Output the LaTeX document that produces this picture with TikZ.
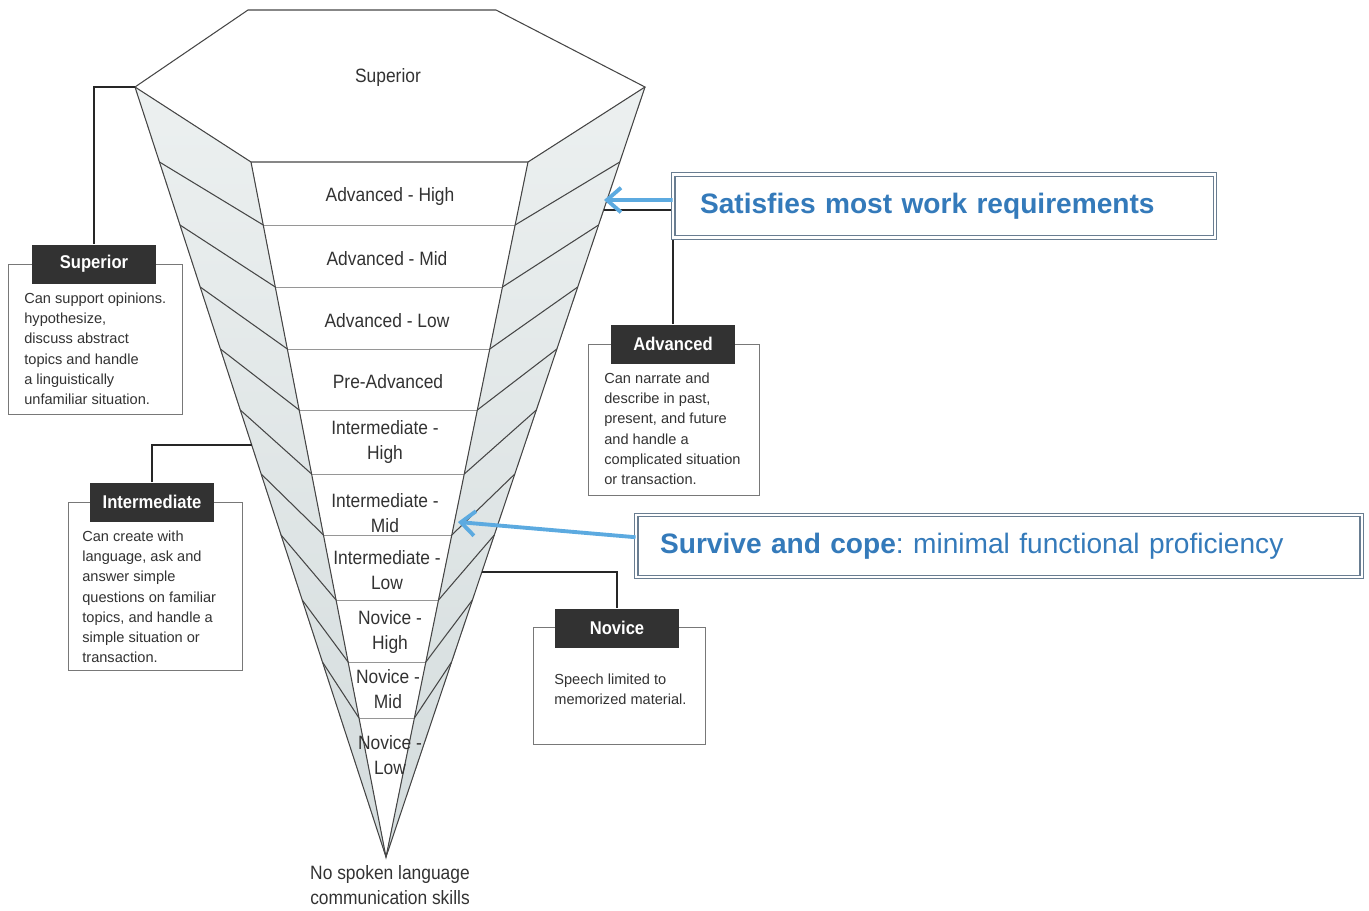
\documentclass[tikz,border=0pt]{standalone}
\usepackage{fontspec}
\setmainfont{Liberation Sans}
\newfontfamily\condfont[FakeStretch=0.9]{Liberation Sans}
\usetikzlibrary{calc,positioning,arrows.meta}
\frenchspacing
\definecolor{rimgray}{RGB}{70,70,70}
\definecolor{tiergray}{RGB}{150,150,150}
\definecolor{facetop}{RGB}{236,240,240}
\definecolor{facebot}{RGB}{212,220,221}
\definecolor{labelgray}{RGB}{50,50,50}
\definecolor{headgray}{RGB}{50,50,50}
\definecolor{boxgray}{RGB}{120,120,120}
\definecolor{noteblue}{RGB}{52,122,186}
\definecolor{noterim}{RGB}{105,125,145}
\definecolor{arrowblue}{RGB}{92,170,224}
\tikzset{
	rim/.style={draw=rimgray, line width=0.6pt},
	tier/.style={draw=tiergray, line width=0.5pt},
	face/.style={top color=facetop, bottom color=facebot},
	level/.style={font=\condfont\fontsize{11}{14.2}\selectfont, text=labelgray, align=center, inner sep=0pt},
	bandhead/.style={fill=headgray, text=white, font=\condfont\bfseries\fontsize{10.5}{12}\selectfont, minimum width=2.48cm, minimum height=0.78cm, inner sep=0pt},
	bandbox/.style={draw=boxgray, line width=0.5pt, fill=white},
	bandtext/.style={font=\fontsize{8.3}{11.4}\selectfont, text=labelgray, align=left, anchor=north west, inner sep=0pt},
	leader/.style={draw=black!85, line width=0.8pt},
	note/.style={draw=noterim, double, double distance=1.6pt, line width=0.6pt, fill=white, text=noteblue, font=\fontsize{16}{18}\selectfont, align=left},
	notearrow/.style={-{Straight Barb[length=8pt,width=14pt]}, draw=arrowblue, line width=2.2pt}
}
\begin{document}
\begin{tikzpicture}[x=0.02cm,y=-0.02cm]
	\useasboundingbox (0,0) rectangle (1369,910);
	%%% cone corners
	\coordinate (TL) at (248,10);
	\coordinate (TR) at (496,10);
	\coordinate (OL) at (135,87);
	\coordinate (OR) at (645,87);
	\coordinate (FL) at (251,162);
	\coordinate (FR) at (528,162);
	\coordinate (apex) at (386,857);
	
	\fill[face] (OL) -- (FL) -- (apex) -- cycle;
	\fill[face] (OR) -- (FR) -- (apex) -- cycle;
	
	%%% tiers on the front
	\foreach \y in {225,287,349,410,474,535,600,662,718}
		\draw[tier] ($(FL)!{(\y-162)/695}!(apex)$) -- ($(FR)!{(\y-162)/695}!(apex)$);
	%%% slanted tiers on the sides
	\foreach \ya/\yb in {162/225,225/287,287/349,349/410,410/474,474/535,535/600,600/662,662/718}{
		\draw[rim] ($(OL)!{(\ya-87)/770}!(apex)$) -- ($(FL)!{(\yb-162)/695}!(apex)$);
		\draw[rim] ($(OR)!{(\ya-87)/770}!(apex)$) -- ($(FR)!{(\yb-162)/695}!(apex)$);
	}
	\draw[rim] (TL) -- (TR) -- (OR) -- (FR) -- (FL) -- (OL) -- cycle;
	\draw[rim] (OL) -- (apex) -- (OR);
	\draw[rim] (FL) -- (apex) -- (FR);
	
	\node[level] (supr) at (388,77) {Superior};
	\node[level] (advh) at (390,196) {Advanced - High};
	\node[level] (advm) at (387,259) {Advanced - Mid};
	\node[level] (advl) at (387,321) {Advanced - Low};
	\node[level] (prea) at (388,382) {Pre-Advanced};
	\node[level] (inth) at (385,442) {Intermediate -\\High};
	\node[level] (intm) at (385,513) {Intermediate -\\Mid};
	\node[level] (intl) at (387,570) {Intermediate -\\Low};
	\node[level] (novh) at (390,632) {Novice -\\High};
	\node[level] (novm) at (388,689) {Novice -\\Mid};
	\node[level] (novl) at (390,755) {Novice -\\Low};
	\node[level] (nolang) at (390,885) {No spoken language\\communication skills};
	
	%%% Superior
	\node[bandbox, minimum width=3.48cm, minimum height=3cm] (supbox) at (95,339) {};
	\node[bandhead] (suphead) at (94,264) {Superior};
	\node[bandtext] (suptext) at (24,293) {Can support opinions.\\hypothesize,\\discuss abstract\\topics and handle\\a linguistically\\unfamiliar situation.};
	\draw[leader] (suphead.north) |- (OL);
	
	%%% Intermediate
	\node[bandbox, minimum width=3.48cm, minimum height=3.36cm] (intbox) at (155,586) {};
	\node[bandhead] (inthead) at (152,502) {Intermediate};
	\node[bandtext] (inttext) at (82,531) {Can create with\\language, ask and\\answer simple\\questions on familiar\\topics, and handle a\\simple situation or\\transaction.};
	\coordinate (intpt) at ($(OL)!{(445-87)/770}!(apex)$);
	\draw[leader] (inthead.north) |- (intpt);
	
	%%% Advanced
	\node[bandbox, minimum width=3.42cm, minimum height=3.02cm] (advbox) at (674,420) {};
	\node[bandhead] (advhead) at (673,344) {Advanced};
	\node[bandtext] (advtext) at (604,373) {Can narrate and\\describe in past,\\present, and future\\and handle a\\complicated situation\\or transaction.};
	\coordinate (advpt) at ($(OR)!{(210-87)/770}!(apex)$);
	\draw[leader] (advhead.north) |- (advpt);
	
	%%% Novice
	\node[bandbox, minimum width=3.44cm, minimum height=2.34cm] (novbox) at (619,686) {};
	\node[bandhead] (novhead) at (617,628) {Novice};
	\node[bandtext] (novtext) at (554,674) {Speech limited to\\memorized material.};
	\coordinate (novpt) at ($(OR)!{(572-87)/770}!(apex)$);
	\draw[leader] (novhead.north) |- (novpt);
	
	%%% callouts
	\node[note, text width=9.76cm, minimum height=1.26cm, inner xsep=0.54cm] (satnote) at (944,206) {\textbf{Satisfies most work requirements}};
	\node[note, text width=13.56cm, minimum height=1.24cm, inner xsep=0.48cm] (survnote) at (999,546) {\textbf{Survive and cope}: minimal functional proficiency};
	\coordinate (sattip) at (604,200);
	\coordinate (midtip) at (458,522);
	\draw[notearrow] ([yshift=3.4pt]satnote.west) -- (sattip);
	\draw[notearrow] ([yshift=5pt]survnote.west) -- (midtip);
\end{tikzpicture}
\end{document}
